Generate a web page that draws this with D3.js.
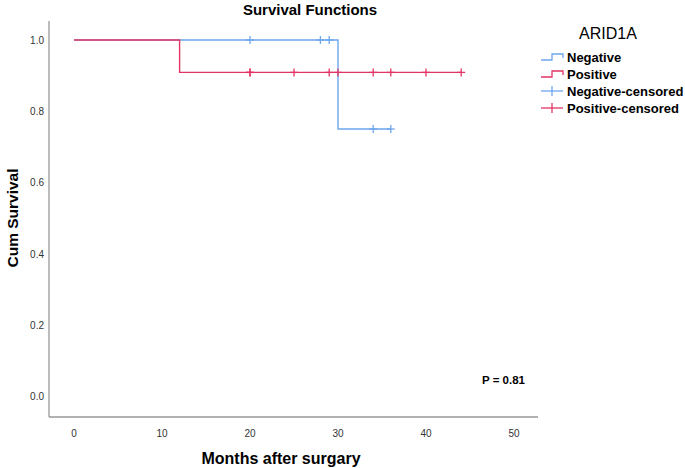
<!DOCTYPE html>
<html><head><meta charset="utf-8">
<script src="https://cdn.jsdelivr.net/npm/d3@7"></script>
<style>body{margin:0;background:#fff}svg{display:block;font-family:"Liberation Sans",Arial,sans-serif}</style>
</head><body>
<svg id="c" width="685" height="468"></svg>
<script>
// Data
const negSteps = [[0,1.0],[30,1.0],[30,0.75],[36,0.75]];
const posSteps = [[0,1.0],[12,1.0],[12,0.909],[44,0.909]];
const negCensored = [[20,1.0],[28,1.0],[29,1.0],[34,0.75],[36,0.75]];
const posCensored = [[20,0.909],[20,0.909],[25,0.909],[29,0.909],[30,0.909],[34,0.909],[36,0.909],[40,0.909],[44,0.909]];
const xTicks = [0,10,20,30,40,50];
const yTicks = [0,0.2,0.4,0.6,0.8,1.0];
const legendLabels = ["Negative","Positive","Negative-censored","Positive-censored"];

const blue = "#6ea6ee", red = "#e23565";
const svg = d3.select("#c");
const x = d3.scaleLinear().domain([0,50]).range([74,514]);
const y = d3.scaleLinear().domain([0,1]).range([396,40]);

// axes
svg.append("line").attr("x1",49).attr("x2",49).attr("y1",21).attr("y2",417).attr("stroke","#999").attr("stroke-width",1.3);
svg.append("line").attr("x1",49).attr("x2",538).attr("y1",417).attr("y2",417).attr("stroke","#999").attr("stroke-width",1.3);

svg.selectAll(".xt").data(xTicks).enter().append("text")
  .attr("x",d=>x(d)).attr("y",437).attr("text-anchor","middle")
  .attr("font-size",10).attr("fill","#333").text(d=>d);
svg.selectAll(".yt").data(yTicks).enter().append("text")
  .attr("x",44).attr("y",d=>y(d)+4).attr("text-anchor","end")
  .attr("font-size",10).attr("fill","#333").text(d=>d.toFixed(1));

// lines
const line = d3.line().x(d=>x(d[0])).y(d=>y(d[1]));
svg.append("path").datum(negSteps).attr("d",line).attr("fill","none").attr("stroke",blue).attr("stroke-width",1.4);
svg.append("path").datum(posSteps).attr("d",line).attr("fill","none").attr("stroke",red).attr("stroke-width",1.4);

function cross(data,color){
  const g = svg.append("g").attr("stroke",color).attr("stroke-width",1.3);
  g.selectAll("line.v").data(data).enter().append("line")
    .attr("x1",d=>x(d[0])).attr("x2",d=>x(d[0])).attr("y1",d=>y(d[1])-4).attr("y2",d=>y(d[1])+4);
  g.selectAll("line.h").data(data).enter().append("line")
    .attr("x1",d=>x(d[0])-4).attr("x2",d=>x(d[0])+4).attr("y1",d=>y(d[1])).attr("y2",d=>y(d[1]));
}
cross(negCensored,blue);
cross(posCensored,red);

// titles
svg.append("text").attr("x",310).attr("y",15).attr("text-anchor","middle").attr("font-size",15).attr("font-weight","bold").text("Survival Functions");
svg.append("text").attr("x",281).attr("y",464).attr("text-anchor","middle").attr("font-size",16).attr("font-weight","bold").text("Months after surgary");
svg.append("text").attr("transform","translate(18,218) rotate(-90)").attr("text-anchor","middle").attr("font-size",15.5).attr("font-weight","bold").text("Cum Survival");
svg.append("text").attr("x",525).attr("y",384).attr("text-anchor","end").attr("font-size",11.5).attr("font-weight","bold").text("P = 0.81");

// legend
svg.append("text").attr("x",608).attr("y",39).attr("text-anchor","middle").attr("font-size",16).text("ARID1A");
const colors = [blue,red,blue,red];
const ly = [57,74,91,108];
legendLabels.forEach((t,i)=>{
  const yy = ly[i];
  if(i<2){
    svg.append("path").attr("d",`M541,${yy+3}H552V${yy-3}H563V${yy+1}`).attr("fill","none").attr("stroke",colors[i]).attr("stroke-width",1.3);
  } else {
    svg.append("line").attr("x1",541).attr("x2",563).attr("y1",yy).attr("y2",yy).attr("stroke",colors[i]).attr("stroke-width",1.3);
    svg.append("line").attr("x1",552).attr("x2",552).attr("y1",yy-5).attr("y2",yy+5).attr("stroke",colors[i]).attr("stroke-width",1.3);
  }
  svg.append("text").attr("x",567).attr("y",yy+5).attr("font-size",13).attr("font-weight","bold").text(t);
});
</script>
</body></html>
